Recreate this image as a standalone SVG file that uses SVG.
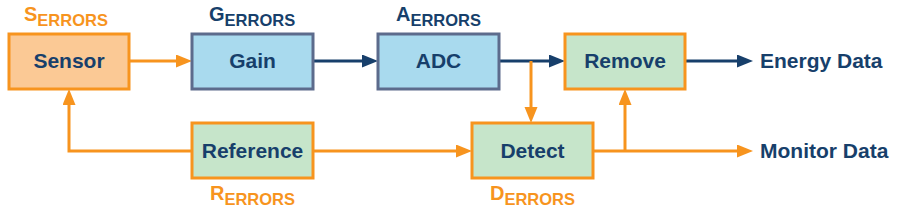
<svg xmlns="http://www.w3.org/2000/svg" width="900" height="207" viewBox="0 0 900 207">
<style>
.box{stroke-width:3}
.or{stroke:#F7941E}
.bl{stroke:#5C6B8C}
.fo{fill:#FBC995}
.fb{fill:#A9DAEE}
.fg{fill:#C6E5CA}
.lbl{font-family:"Liberation Sans",Arial,sans-serif;font-weight:bold;font-size:21px;fill:#173F6B;text-anchor:middle}
.err{font-family:"Liberation Sans",Arial,sans-serif;font-weight:bold}
.eo{fill:#F7941E}
.eb{fill:#173F6B}
.big{font-size:20px}
.sub{font-size:16.5px}
.c{fill:none;stroke-width:3}
.co{stroke:#F7941E}
.cb{stroke:#173F6B}
</style>
<defs>
<marker id="ao" markerUnits="userSpaceOnUse" markerWidth="17" markerHeight="14" refX="6" refY="6.5" orient="auto"><path d="M0,0 L16,6.5 L0,13 z" fill="#F7941E"/></marker>
<marker id="ab" markerUnits="userSpaceOnUse" markerWidth="17" markerHeight="14" refX="6" refY="6.5" orient="auto"><path d="M0,0 L16,6.5 L0,13 z" fill="#173F6B"/></marker>
</defs>
<rect width="900" height="207" fill="#FFFFFF"/>
<g id="connectors">
<path class="c co" d="M129,61 H182" marker-end="url(#ao)"/>
<path class="c cb" d="M313,61 H368" marker-end="url(#ab)"/>
<path class="c cb" d="M499,61 H555" marker-end="url(#ab)"/>
<path class="c co" d="M531,61 V113" marker-end="url(#ao)"/>
<path class="c cb" d="M685,61 H743" marker-end="url(#ab)"/>
<path class="c co" d="M192,151 H69 V99" marker-end="url(#ao)"/>
<path class="c co" d="M313,151 H462" marker-end="url(#ao)"/>
<path class="c co" d="M593,151 H743" marker-end="url(#ao)"/>
<path class="c co" d="M625,151 V99" marker-end="url(#ao)"/>
</g>
<g id="sensor">
<rect class="box or fo" x="9" y="34" width="120" height="55"/>
<text class="lbl" x="69" y="68">Sensor</text>
<text class="err eo" x="24" y="21"><tspan class="big">S</tspan><tspan class="sub" dy="5">ERRORS</tspan></text>
</g>
<g id="gain">
<rect class="box bl fb" x="192" y="34" width="121" height="55"/>
<text class="lbl" x="252.5" y="68">Gain</text>
<text class="err eb" x="209" y="21"><tspan class="big">G</tspan><tspan class="sub" dy="5">ERRORS</tspan></text>
</g>
<g id="adc">
<rect class="box bl fb" x="378" y="34" width="121" height="55"/>
<text class="lbl" x="438.5" y="68">ADC</text>
<text class="err eb" x="396" y="21"><tspan class="big">A</tspan><tspan class="sub" dy="5">ERRORS</tspan></text>
</g>
<g id="remove">
<rect class="box or fg" x="565" y="34" width="120" height="55"/>
<text class="lbl" x="625" y="68">Remove</text>
</g>
<g id="reference">
<rect class="box or fg" x="192" y="123" width="121" height="55"/>
<text class="lbl" x="252.5" y="158">Reference</text>
<text class="err eo" x="210" y="200"><tspan class="big">R</tspan><tspan class="sub" dy="5">ERRORS</tspan></text>
</g>
<g id="detect">
<rect class="box or fg" x="472" y="123" width="121" height="55"/>
<text class="lbl" x="532.5" y="158">Detect</text>
<text class="err eo" x="490" y="200"><tspan class="big">D</tspan><tspan class="sub" dy="5">ERRORS</tspan></text>
</g>
<g id="energy-data">
<text class="lbl" x="760" y="68" style="text-anchor:start">Energy Data</text>
</g>
<g id="monitor-data">
<text class="lbl" x="760" y="158" style="text-anchor:start">Monitor Data</text>
</g>
</svg>
